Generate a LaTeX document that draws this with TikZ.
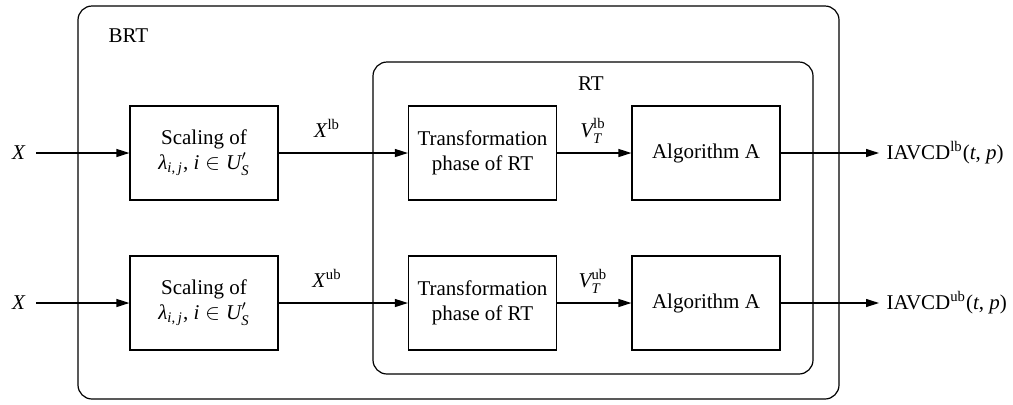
\documentclass[tikz,border=0pt]{standalone}
\usepackage{amsmath}
\usepackage{fontspec}
\setmainfont{Liberation Serif}
\usetikzlibrary{arrows.meta}
\begin{document}
\begin{tikzpicture}[x=0.5pt,y=-0.5pt,
  font=\fontsize{10.5}{12.5}\selectfont,
  every path/.style={line width=0.6pt},
  blk/.style={draw, minimum width=74pt, minimum height=47pt, align=center, inner sep=1pt},
  frame/.style={draw, rounded corners=7pt},
  arr/.style={-{Triangle[length=6.5pt,width=4pt]}},
  lbl/.style={inner sep=1pt}]
\useasboundingbox (0,0) rectangle (1013,404);
% frames
\node[frame, minimum width=380.5pt, minimum height=196.5pt] (brt) at (458.5,202.5) {};
\node[frame, minimum width=220pt, minimum height=156pt] (rt) at (593,218) {};
\node[lbl, anchor=west] (brtl) at (106,36) {BRT};
\node[lbl] (rtl) at (591,84) {RT};
% upper row
\node[blk] (s1) at (204,153) {Scaling of\\$\textit{λ}_{\textit{i}\text{,}\,\textit{j}}\text{,}\ \textit{i}\in \textit{U}'_{\textit{S}}$};
\node[blk] (t1) at (482.5,153) {Transformation\\phase of RT};
\node[blk] (a1) at (706,153) {Algorithm A};
\node[lbl] (x1) at (19,153) {\textit{X}};
\coordinate (o1) at (879,153);
\node[lbl, anchor=west] (r1) at (884,153) {IAVCD\textsuperscript{lb}(\textit{t}, \textit{p})};
\draw[arr] (x1.east) ++(8,0) coordinate (x1s) (x1s) -- (s1.west);
\draw[arr] (s1.east) -- (t1.west);
\draw[arr] (t1.east) -- (a1.west);
\draw[arr] (a1.east) -- (o1);
\node[lbl] (xl1) at (327,128) {\textit{X}\textsuperscript{lb}};
\node[lbl] (vl1) at (593,131) {$\textit{V}^{\text{lb}}_{\textit{T}}$};
% lower row
\node[blk] (s2) at (204,303) {Scaling of\\$\textit{λ}_{\textit{i}\text{,}\,\textit{j}}\text{,}\ \textit{i}\in \textit{U}'_{\textit{S}}$};
\node[blk] (t2) at (482.5,303) {Transformation\\phase of RT};
\node[blk] (a2) at (706,303) {Algorithm A};
\node[lbl] (x2) at (19,303) {\textit{X}};
\coordinate (o2) at (879,303);
\node[lbl, anchor=west] (r2) at (884,303) {IAVCD\textsuperscript{ub}(\textit{t}, \textit{p})};
\draw[arr] (x2.east) ++(8,0) coordinate (x2s) (x2s) -- (s2.west);
\draw[arr] (s2.east) -- (t2.west);
\draw[arr] (t2.east) -- (a2.west);
\draw[arr] (a2.east) -- (o2);
\node[lbl] (xl2) at (327,278) {\textit{X}\textsuperscript{ub}};
\node[lbl] (vl2) at (593,281) {$\textit{V}^{\text{ub}}_{\textit{T}}$};
\end{tikzpicture}
\end{document}
